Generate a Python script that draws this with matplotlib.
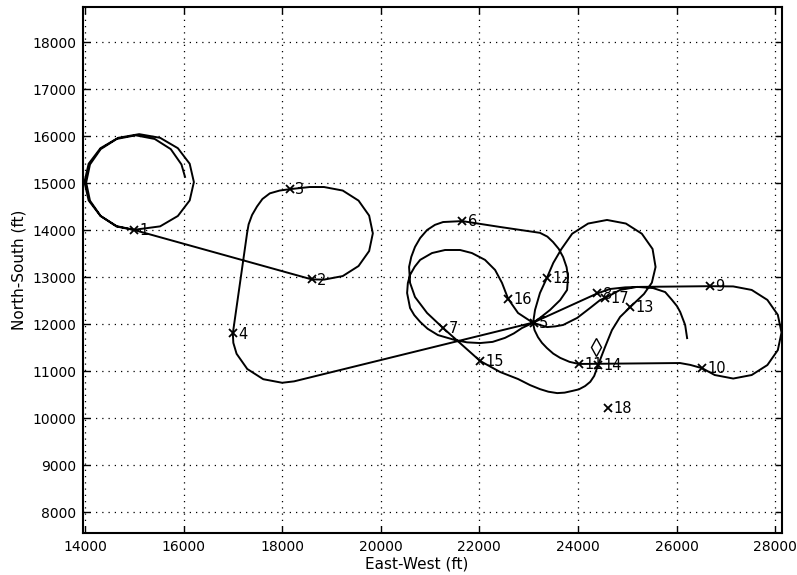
import matplotlib
matplotlib.use("Agg")
import matplotlib.pyplot as plt

# flight path (ft), split into legs
loiter = [(16030, 15130), (15958, 15395), (15741, 15721), (15415, 15938), (15030, 16015),
          (14645, 15938), (14319, 15721), (14102, 15395), (14025, 15010), (14102, 14625),
          (14319, 14299), (14645, 14082), (15000, 14005), (15525, 14078), (15885, 14299),
          (16125, 14630), (16210, 15020), (16125, 15410), (15885, 15741), (15525, 15962),
          (15100, 16040), (14675, 15962), (14315, 15741), (14075, 15410), (13990, 15020),
          (14075, 14630), (14315, 14299), (14640, 14075), (15000, 14000)]

leg_west = [(18600, 12950), (18850, 12945), (19229, 13020), (19550, 13234), (19765, 13553),
            (19840, 13930), (19765, 14307), (19550, 14626), (19229, 14840), (18850, 14915),
            (18560, 14915), (18160, 14870), (17950, 14840), (17750, 14780), (17600, 14660),
            (17490, 14500), (17390, 14320), (17320, 14120), (17290, 13940), (17000, 11800),
            (17010, 11600), (17076, 11367), (17293, 11043), (17617, 10826), (18000, 10750),
            (18242, 10780), (23090, 12030)]

leg_east = [(24390, 12650), (24650, 12745), (24960, 12780), (25260, 12790), (26680, 12805),
            (27150, 12800), (27525, 12725), (27843, 12513), (28055, 12195), (28130, 11820),
            (28055, 11445), (27843, 11127), (27525, 10915), (27150, 10840), (26775, 10915),
            (26520, 11060), (26280, 11130), (26070, 11170), (24020, 11150), (23830, 11195),
            (23640, 11280), (23500, 11370), (23370, 11490), (23270, 11600), (23190, 11720),
            (23120, 11870), (23090, 12020), (23130, 12300), (23230, 12660), (23370, 12980),
            (23500, 13300), (23666, 13597), (23883, 13921), (24207, 14138), (24590, 14214),
            (24973, 14138), (25297, 13921), (25514, 13597), (25575, 13214), (25500, 12880),
            (25340, 12640), (25200, 12500), (25060, 12360), (24855, 12150), (24690, 11870),
            (24550, 11510), (24410, 11130)]

leg_south = [(24330, 10895), (24250, 10770), (24145, 10680), (24020, 10610), (23880, 10575),
             (23730, 10540), (23580, 10530), (23400, 10560), (23230, 10615), (23030, 10700),
             (22785, 10830), (22420, 10980), (22015, 11215), (21265, 11915), (20940, 12235),
             (20695, 12575), (20595, 12875), (20575, 13215), (20620, 13430), (20695, 13640),
             (20800, 13830), (20940, 14000), (21100, 14110), (21265, 14170), (21650, 14190),
             (22420, 14065), (23230, 13940), (23380, 13860), (23495, 13745), (23610, 13600),
             (23700, 13425), (23770, 13210), (23800, 13000), (23780, 12725), (23640, 12510),
             (23435, 12300), (23230, 12130), (23090, 12025)]

leg_inner = [(22865, 11915), (22700, 11800), (22520, 11705), (22270, 11620), (22015, 11595),
             (21750, 11610), (21505, 11660), (21160, 11765), (20950, 11900), (20800, 12045),
             (20680, 12190), (20595, 12340), (20535, 12660), (20550, 12870), (20595, 13045),
             (20690, 13220), (20800, 13365), (21040, 13510), (21305, 13575), (21610, 13575),
             (21850, 13510), (22115, 13365), (22320, 13150), (22460, 12875), (22585, 12535),
             (22785, 12235), (23090, 12025), (23375, 11935), (23540, 11950), (23700, 11980),
             (23985, 12130), (24245, 12340), (24450, 12510), (24590, 12575), (24855, 12725),
             (25200, 12790), (25525, 12765), (25770, 12680), (25910, 12510), (26010, 12380),
             (26075, 12255), (26175, 11980), (26215, 11700)]

# waypoints
wp_x = [15000, 18600, 18150, 17000, 23100, 21650, 21270, 24390, 26680,
        26520, 24020, 23375, 25060, 24410, 22015, 22585, 24550, 24610]
wp_y = [14000, 12950, 14870, 11800, 12030, 14190, 11915, 12650, 12805,
        11060, 11150, 12980, 12360, 11130, 11215, 12535, 12555, 10215]
wp_labels = [str(i) for i in range(1, 19)]

target_x = [24370]
target_y = [11510]

path = loiter + leg_west + leg_east + leg_south + leg_inner
px = [p[0] for p in path]
py = [p[1] for p in path]

plt.rcParams['font.family'] = ['DejaVu Sans']
fig = plt.figure(figsize=(7.97, 5.75), dpi=100)
ax = fig.add_axes([0.1041, 0.0730, 0.8771, 0.9148])

ax.plot(px, py, color='black', linewidth=1.4, solid_joinstyle='round')
ax.plot(wp_x, wp_y, 'x', color='black', markersize=5.5, markeredgewidth=1.3)
for x, y, s in zip(wp_x, wp_y, wp_labels):
    ax.annotate(s, (x, y), xytext=(4, -0.5), textcoords='offset points',
                ha='left', va='center', fontsize=10.5)
ax.plot(target_x, target_y, 'd', color='black', markerfacecolor='none',
        markersize=9, markeredgewidth=1.0)

ax.set_xlim(13960, 28140)
ax.set_ylim(7553, 18745)
ax.set_xticks(range(14000, 28001, 2000))
ax.set_yticks(range(8000, 18001, 1000))
ax.grid(True, linestyle=(0, (1, 4)), color='black', linewidth=0.9)
ax.tick_params(direction='in', length=5, width=1.0, top=True, right=True,
               labelsize=10, pad=5)
for sp in ax.spines.values():
    sp.set_linewidth(1.5)

ax.set_xlabel('East-West (ft)', fontsize=11, labelpad=1)
ax.xaxis.set_label_coords(0.477, -0.045)
ax.set_ylabel('North-South (ft)', fontsize=11, labelpad=4)

fig.savefig('out.png', dpi=100)
